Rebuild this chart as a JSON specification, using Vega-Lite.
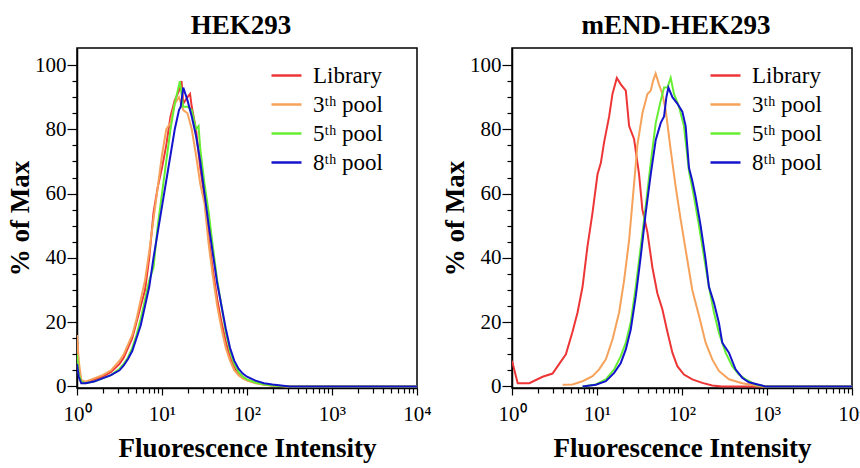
{
  "$schema": "https://vega.github.io/schema/vega-lite/v6.json",
  "padding": {"left": 5, "top": 11, "right": 2, "bottom": 2},
  "background": "white",
  "datasets": {
    "hek": [
      {"series":"Library","intensity":1,"percent":15},{"series":"Library","intensity":1.047,"percent":6},{"series":"Library","intensity":1.122,"percent":1.5},{"series":"Library","intensity":1.259,"percent":1},{"series":"Library","intensity":1.413,"percent":1.5},{"series":"Library","intensity":1.585,"percent":2},{"series":"Library","intensity":1.995,"percent":3},{"series":"Library","intensity":2.512,"percent":4.5},{"series":"Library","intensity":3.162,"percent":7},{"series":"Library","intensity":3.548,"percent":9},{"series":"Library","intensity":3.981,"percent":12},{"series":"Library","intensity":4.467,"percent":15},{"series":"Library","intensity":5.012,"percent":20},{"series":"Library","intensity":5.623,"percent":25},{"series":"Library","intensity":6.31,"percent":30},{"series":"Library","intensity":7.079,"percent":40},{"series":"Library","intensity":7.943,"percent":54},{"series":"Library","intensity":8.913,"percent":62},{"series":"Library","intensity":10,"percent":68},{"series":"Library","intensity":11.22,"percent":75},{"series":"Library","intensity":12.59,"percent":84},{"series":"Library","intensity":14.13,"percent":89},{"series":"Library","intensity":15.85,"percent":92},{"series":"Library","intensity":16.98,"percent":95},{"series":"Library","intensity":17.78,"percent":88},{"series":"Library","intensity":19.95,"percent":90},{"series":"Library","intensity":21.38,"percent":91},{"series":"Library","intensity":22.39,"percent":87},{"series":"Library","intensity":25.12,"percent":80},{"series":"Library","intensity":28.18,"percent":68},{"series":"Library","intensity":31.62,"percent":59},{"series":"Library","intensity":35.48,"percent":46},{"series":"Library","intensity":39.81,"percent":36},{"series":"Library","intensity":44.67,"percent":27},{"series":"Library","intensity":50.12,"percent":20},{"series":"Library","intensity":56.23,"percent":14},{"series":"Library","intensity":63.1,"percent":9},{"series":"Library","intensity":70.79,"percent":6},{"series":"Library","intensity":79.43,"percent":4},{"series":"Library","intensity":89.13,"percent":3},{"series":"Library","intensity":100,"percent":2},{"series":"Library","intensity":125.9,"percent":1.2},{"series":"Library","intensity":158.5,"percent":0.6},{"series":"Library","intensity":199.5,"percent":0.3},{"series":"Library","intensity":316.2,"percent":0},{"series":"Library","intensity":10000,"percent":0},
      {"series":"3ᵗʰ pool","intensity":1,"percent":16},{"series":"3ᵗʰ pool","intensity":1.047,"percent":8},{"series":"3ᵗʰ pool","intensity":1.122,"percent":2},{"series":"3ᵗʰ pool","intensity":1.259,"percent":1.5},{"series":"3ᵗʰ pool","intensity":1.585,"percent":2.5},{"series":"3ᵗʰ pool","intensity":1.995,"percent":3.5},{"series":"3ᵗʰ pool","intensity":2.512,"percent":5},{"series":"3ᵗʰ pool","intensity":3.162,"percent":8},{"series":"3ᵗʰ pool","intensity":3.548,"percent":10},{"series":"3ᵗʰ pool","intensity":3.981,"percent":13},{"series":"3ᵗʰ pool","intensity":4.467,"percent":16},{"series":"3ᵗʰ pool","intensity":5.012,"percent":21},{"series":"3ᵗʰ pool","intensity":5.623,"percent":27},{"series":"3ᵗʰ pool","intensity":6.31,"percent":33},{"series":"3ᵗʰ pool","intensity":7.079,"percent":42},{"series":"3ᵗʰ pool","intensity":7.943,"percent":52},{"series":"3ᵗʰ pool","intensity":8.913,"percent":62},{"series":"3ᵗʰ pool","intensity":10,"percent":72},{"series":"3ᵗʰ pool","intensity":11.22,"percent":80},{"series":"3ᵗʰ pool","intensity":12.59,"percent":82},{"series":"3ᵗʰ pool","intensity":14.13,"percent":88},{"series":"3ᵗʰ pool","intensity":15.85,"percent":90},{"series":"3ᵗʰ pool","intensity":17.78,"percent":86},{"series":"3ᵗʰ pool","intensity":19.95,"percent":85},{"series":"3ᵗʰ pool","intensity":22.39,"percent":80},{"series":"3ᵗʰ pool","intensity":25.12,"percent":72},{"series":"3ᵗʰ pool","intensity":28.18,"percent":63},{"series":"3ᵗʰ pool","intensity":31.62,"percent":57},{"series":"3ᵗʰ pool","intensity":35.48,"percent":44},{"series":"3ᵗʰ pool","intensity":39.81,"percent":34},{"series":"3ᵗʰ pool","intensity":44.67,"percent":25},{"series":"3ᵗʰ pool","intensity":50.12,"percent":18},{"series":"3ᵗʰ pool","intensity":56.23,"percent":12},{"series":"3ᵗʰ pool","intensity":63.1,"percent":8},{"series":"3ᵗʰ pool","intensity":70.79,"percent":5},{"series":"3ᵗʰ pool","intensity":79.43,"percent":3.5},{"series":"3ᵗʰ pool","intensity":89.13,"percent":2.5},{"series":"3ᵗʰ pool","intensity":100,"percent":1.8},{"series":"3ᵗʰ pool","intensity":125.9,"percent":1},{"series":"3ᵗʰ pool","intensity":158.5,"percent":0.5},{"series":"3ᵗʰ pool","intensity":199.5,"percent":0.2},{"series":"3ᵗʰ pool","intensity":316.2,"percent":0},{"series":"3ᵗʰ pool","intensity":10000,"percent":0},
      {"series":"5ᵗʰ pool","intensity":1,"percent":10},{"series":"5ᵗʰ pool","intensity":1.047,"percent":4},{"series":"5ᵗʰ pool","intensity":1.122,"percent":1.5},{"series":"5ᵗʰ pool","intensity":1.259,"percent":1},{"series":"5ᵗʰ pool","intensity":1.585,"percent":1.5},{"series":"5ᵗʰ pool","intensity":1.995,"percent":2.5},{"series":"5ᵗʰ pool","intensity":2.512,"percent":3.5},{"series":"5ᵗʰ pool","intensity":3.162,"percent":5.5},{"series":"5ᵗʰ pool","intensity":3.548,"percent":7},{"series":"5ᵗʰ pool","intensity":3.981,"percent":9},{"series":"5ᵗʰ pool","intensity":4.467,"percent":12},{"series":"5ᵗʰ pool","intensity":5.012,"percent":16},{"series":"5ᵗʰ pool","intensity":5.623,"percent":21},{"series":"5ᵗʰ pool","intensity":6.31,"percent":27},{"series":"5ᵗʰ pool","intensity":7.079,"percent":33},{"series":"5ᵗʰ pool","intensity":7.943,"percent":37},{"series":"5ᵗʰ pool","intensity":8.913,"percent":50},{"series":"5ᵗʰ pool","intensity":10,"percent":60},{"series":"5ᵗʰ pool","intensity":11.22,"percent":70},{"series":"5ᵗʰ pool","intensity":12.59,"percent":80},{"series":"5ᵗʰ pool","intensity":14.13,"percent":88},{"series":"5ᵗʰ pool","intensity":16.22,"percent":95},{"series":"5ᵗʰ pool","intensity":17.78,"percent":87},{"series":"5ᵗʰ pool","intensity":19.95,"percent":87},{"series":"5ᵗʰ pool","intensity":22.39,"percent":86},{"series":"5ᵗʰ pool","intensity":25.12,"percent":80},{"series":"5ᵗʰ pool","intensity":26.92,"percent":81},{"series":"5ᵗʰ pool","intensity":28.18,"percent":74},{"series":"5ᵗʰ pool","intensity":31.62,"percent":63},{"series":"5ᵗʰ pool","intensity":35.48,"percent":54},{"series":"5ᵗʰ pool","intensity":39.81,"percent":43},{"series":"5ᵗʰ pool","intensity":44.67,"percent":33},{"series":"5ᵗʰ pool","intensity":50.12,"percent":25},{"series":"5ᵗʰ pool","intensity":56.23,"percent":17},{"series":"5ᵗʰ pool","intensity":63.1,"percent":11},{"series":"5ᵗʰ pool","intensity":70.79,"percent":7},{"series":"5ᵗʰ pool","intensity":79.43,"percent":4.5},{"series":"5ᵗʰ pool","intensity":89.13,"percent":3},{"series":"5ᵗʰ pool","intensity":100,"percent":2.2},{"series":"5ᵗʰ pool","intensity":125.9,"percent":1.2},{"series":"5ᵗʰ pool","intensity":158.5,"percent":0.6},{"series":"5ᵗʰ pool","intensity":199.5,"percent":0.3},{"series":"5ᵗʰ pool","intensity":316.2,"percent":0},{"series":"5ᵗʰ pool","intensity":10000,"percent":0},
      {"series":"8ᵗʰ pool","intensity":1,"percent":7},{"series":"8ᵗʰ pool","intensity":1.047,"percent":3},{"series":"8ᵗʰ pool","intensity":1.122,"percent":1},{"series":"8ᵗʰ pool","intensity":1.259,"percent":1},{"series":"8ᵗʰ pool","intensity":1.585,"percent":1.5},{"series":"8ᵗʰ pool","intensity":1.995,"percent":2.5},{"series":"8ᵗʰ pool","intensity":2.512,"percent":3.5},{"series":"8ᵗʰ pool","intensity":3.162,"percent":5},{"series":"8ᵗʰ pool","intensity":3.548,"percent":6.5},{"series":"8ᵗʰ pool","intensity":3.981,"percent":8.5},{"series":"8ᵗʰ pool","intensity":4.467,"percent":11},{"series":"8ᵗʰ pool","intensity":5.012,"percent":15},{"series":"8ᵗʰ pool","intensity":5.623,"percent":19},{"series":"8ᵗʰ pool","intensity":6.31,"percent":25},{"series":"8ᵗʰ pool","intensity":7.079,"percent":31},{"series":"8ᵗʰ pool","intensity":7.943,"percent":40},{"series":"8ᵗʰ pool","intensity":8.913,"percent":48},{"series":"8ᵗʰ pool","intensity":10,"percent":56},{"series":"8ᵗʰ pool","intensity":11.22,"percent":64},{"series":"8ᵗʰ pool","intensity":12.59,"percent":72},{"series":"8ᵗʰ pool","intensity":14.13,"percent":80},{"series":"8ᵗʰ pool","intensity":15.85,"percent":86},{"series":"8ᵗʰ pool","intensity":16.6,"percent":87},{"series":"8ᵗʰ pool","intensity":17.78,"percent":93},{"series":"8ᵗʰ pool","intensity":19.95,"percent":89},{"series":"8ᵗʰ pool","intensity":22.39,"percent":84},{"series":"8ᵗʰ pool","intensity":25.12,"percent":78},{"series":"8ᵗʰ pool","intensity":28.18,"percent":70},{"series":"8ᵗʰ pool","intensity":31.62,"percent":60},{"series":"8ᵗʰ pool","intensity":35.48,"percent":50},{"series":"8ᵗʰ pool","intensity":39.81,"percent":41},{"series":"8ᵗʰ pool","intensity":44.67,"percent":32},{"series":"8ᵗʰ pool","intensity":50.12,"percent":25},{"series":"8ᵗʰ pool","intensity":56.23,"percent":18},{"series":"8ᵗʰ pool","intensity":63.1,"percent":12},{"series":"8ᵗʰ pool","intensity":70.79,"percent":8},{"series":"8ᵗʰ pool","intensity":79.43,"percent":5.5},{"series":"8ᵗʰ pool","intensity":89.13,"percent":4},{"series":"8ᵗʰ pool","intensity":100,"percent":3},{"series":"8ᵗʰ pool","intensity":125.9,"percent":1.8},{"series":"8ᵗʰ pool","intensity":158.5,"percent":1},{"series":"8ᵗʰ pool","intensity":199.5,"percent":0.6},{"series":"8ᵗʰ pool","intensity":251.2,"percent":0.3},{"series":"8ᵗʰ pool","intensity":316.2,"percent":0},{"series":"8ᵗʰ pool","intensity":10000,"percent":0}
    ],
    "mend": [
      {"series":"Library","intensity":1,"percent":8},{"series":"Library","intensity":1.167,"percent":1},{"series":"Library","intensity":1.6,"percent":1},{"series":"Library","intensity":2.291,"percent":3},{"series":"Library","intensity":2.999,"percent":4},{"series":"Library","intensity":3.597,"percent":7},{"series":"Library","intensity":4.305,"percent":10},{"series":"Library","intensity":5.152,"percent":17},{"series":"Library","intensity":5.902,"percent":23},{"series":"Library","intensity":6.761,"percent":31},{"series":"Library","intensity":7.727,"percent":43.6},{"series":"Library","intensity":8.851,"percent":54},{"series":"Library","intensity":10.14,"percent":66},{"series":"Library","intensity":11.09,"percent":69.5},{"series":"Library","intensity":12.13,"percent":76},{"series":"Library","intensity":13.9,"percent":84},{"series":"Library","intensity":15.21,"percent":91},{"series":"Library","intensity":17.1,"percent":96},{"series":"Library","intensity":19.05,"percent":94},{"series":"Library","intensity":21.83,"percent":92},{"series":"Library","intensity":23.88,"percent":81},{"series":"Library","intensity":27.29,"percent":77},{"series":"Library","intensity":31.26,"percent":66},{"series":"Library","intensity":34.2,"percent":55},{"series":"Library","intensity":39.17,"percent":48},{"series":"Library","intensity":44.87,"percent":37},{"series":"Library","intensity":51.29,"percent":29},{"series":"Library","intensity":58.75,"percent":24},{"series":"Library","intensity":67.3,"percent":17},{"series":"Library","intensity":77.09,"percent":10.5},{"series":"Library","intensity":88.1,"percent":6.3},{"series":"Library","intensity":105.4,"percent":3.7},{"series":"Library","intensity":132.1,"percent":2.2},{"series":"Library","intensity":173.4,"percent":1.1},{"series":"Library","intensity":227,"percent":0.3},{"series":"Library","intensity":295.1,"percent":0},{"series":"Library","intensity":10000,"percent":0},
      {"series":"3ᵗʰ pool","intensity":3.936,"percent":0.5},{"series":"3ᵗʰ pool","intensity":5.152,"percent":0.6},{"series":"3ᵗʰ pool","intensity":6.761,"percent":1.6},{"series":"3ᵗʰ pool","intensity":8.851,"percent":3.2},{"series":"3ᵗʰ pool","intensity":10.59,"percent":5.3},{"series":"3ᵗʰ pool","intensity":12.71,"percent":8.4},{"series":"3ᵗʰ pool","intensity":15.21,"percent":14.6},{"series":"3ᵗʰ pool","intensity":18.2,"percent":23},{"series":"3ᵗʰ pool","intensity":20.84,"percent":33},{"series":"3ᵗʰ pool","intensity":23.88,"percent":45.6},{"series":"3ᵗʰ pool","intensity":27.29,"percent":63},{"series":"3ᵗʰ pool","intensity":29.85,"percent":75},{"series":"3ᵗʰ pool","intensity":34.2,"percent":85},{"series":"3ᵗʰ pool","intensity":39.17,"percent":91},{"series":"3ᵗʰ pool","intensity":42.85,"percent":92},{"series":"3ᵗʰ pool","intensity":45.6,"percent":95},{"series":"3ᵗʰ pool","intensity":48.98,"percent":97.4},{"series":"3ᵗʰ pool","intensity":53.58,"percent":94},{"series":"3ᵗʰ pool","intensity":58.75,"percent":91},{"series":"3ᵗʰ pool","intensity":64.27,"percent":86},{"series":"3ᵗʰ pool","intensity":73.62,"percent":73.6},{"series":"3ᵗʰ pool","intensity":84.33,"percent":62},{"series":"3ᵗʰ pool","intensity":96.38,"percent":52},{"series":"3ᵗʰ pool","intensity":110.4,"percent":42.5},{"series":"3ᵗʰ pool","intensity":132.1,"percent":30},{"series":"3ᵗʰ pool","intensity":158.5,"percent":22},{"series":"3ᵗʰ pool","intensity":189.7,"percent":13.6},{"series":"3ᵗʰ pool","intensity":227,"percent":8.4},{"series":"3ᵗʰ pool","intensity":271.6,"percent":4.8},{"series":"3ᵗʰ pool","intensity":356.5,"percent":2.2},{"series":"3ᵗʰ pool","intensity":510.5,"percent":1},{"series":"3ᵗʰ pool","intensity":732.8,"percent":0.3},{"series":"3ᵗʰ pool","intensity":877,"percent":0},{"series":"3ᵗʰ pool","intensity":10000,"percent":0},
      {"series":"5ᵗʰ pool","intensity":6.761,"percent":0},{"series":"5ᵗʰ pool","intensity":9.683,"percent":0.6},{"series":"5ᵗʰ pool","intensity":12.71,"percent":2.2},{"series":"5ᵗʰ pool","intensity":15.92,"percent":5.3},{"series":"5ᵗʰ pool","intensity":19.05,"percent":9.4},{"series":"5ᵗʰ pool","intensity":21.83,"percent":13.6},{"series":"5ᵗʰ pool","intensity":24.95,"percent":20},{"series":"5ᵗʰ pool","intensity":28.58,"percent":31},{"series":"5ᵗʰ pool","intensity":32.73,"percent":43.6},{"series":"5ᵗʰ pool","intensity":37.41,"percent":56},{"series":"5ᵗʰ pool","intensity":42.85,"percent":69.5},{"series":"5ᵗʰ pool","intensity":49.09,"percent":82},{"series":"5ᵗʰ pool","intensity":56.23,"percent":89},{"series":"5ᵗʰ pool","intensity":61.52,"percent":93},{"series":"5ᵗʰ pool","intensity":67.3,"percent":93},{"series":"5ᵗʰ pool","intensity":73.62,"percent":96},{"series":"5ᵗʰ pool","intensity":80.54,"percent":91},{"series":"5ᵗʰ pool","intensity":92.26,"percent":87},{"series":"5ᵗʰ pool","intensity":105.4,"percent":81},{"series":"5ᵗʰ pool","intensity":120.8,"percent":67},{"series":"5ᵗʰ pool","intensity":138.4,"percent":59},{"series":"5ᵗʰ pool","intensity":158.5,"percent":50},{"series":"5ᵗʰ pool","intensity":181.1,"percent":40.5},{"series":"5ᵗʰ pool","intensity":207.5,"percent":31},{"series":"5ᵗʰ pool","intensity":237.7,"percent":23},{"series":"5ᵗʰ pool","intensity":271.6,"percent":16.7},{"series":"5ᵗʰ pool","intensity":325.8,"percent":10.5},{"series":"5ᵗʰ pool","intensity":389.9,"percent":6.3},{"series":"5ᵗʰ pool","intensity":466.7,"percent":3.7},{"series":"5ᵗʰ pool","intensity":559.8,"percent":2.2},{"series":"5ᵗʰ pool","intensity":732.8,"percent":0.6},{"series":"5ᵗʰ pool","intensity":959.4,"percent":0},{"series":"5ᵗʰ pool","intensity":10000,"percent":0},
      {"series":"8ᵗʰ pool","intensity":6.761,"percent":0},{"series":"8ᵗʰ pool","intensity":9.683,"percent":0.5},{"series":"8ᵗʰ pool","intensity":12.71,"percent":1.6},{"series":"8ᵗʰ pool","intensity":15.92,"percent":4.2},{"series":"8ᵗʰ pool","intensity":19.05,"percent":7.3},{"series":"8ᵗʰ pool","intensity":21.83,"percent":11.5},{"series":"8ᵗʰ pool","intensity":24.95,"percent":17.7},{"series":"8ᵗʰ pool","intensity":28.58,"percent":28},{"series":"8ᵗʰ pool","intensity":32.73,"percent":40.5},{"series":"8ᵗʰ pool","intensity":37.41,"percent":54},{"series":"8ᵗʰ pool","intensity":42.85,"percent":66},{"series":"8ᵗʰ pool","intensity":49.09,"percent":76.7},{"series":"8ᵗʰ pool","intensity":56.23,"percent":82},{"series":"8ᵗʰ pool","intensity":61.52,"percent":84},{"series":"8ᵗʰ pool","intensity":65.5,"percent":90},{"series":"8ᵗʰ pool","intensity":69.18,"percent":93},{"series":"8ᵗʰ pool","intensity":77.09,"percent":90},{"series":"8ᵗʰ pool","intensity":88.1,"percent":88},{"series":"8ᵗʰ pool","intensity":100.9,"percent":85.5},{"series":"8ᵗʰ pool","intensity":110.4,"percent":81},{"series":"8ᵗʰ pool","intensity":120.8,"percent":68},{"series":"8ᵗʰ pool","intensity":132.1,"percent":64},{"series":"8ᵗʰ pool","intensity":144.5,"percent":59},{"series":"8ᵗʰ pool","intensity":165.6,"percent":50},{"series":"8ᵗʰ pool","intensity":189.7,"percent":39.4},{"series":"8ᵗʰ pool","intensity":207.5,"percent":31},{"series":"8ᵗʰ pool","intensity":237.7,"percent":26},{"series":"8ᵗʰ pool","intensity":271.6,"percent":19.8},{"series":"8ᵗʰ pool","intensity":297.8,"percent":13.6},{"series":"8ᵗʰ pool","intensity":356.5,"percent":10.5},{"series":"8ᵗʰ pool","intensity":426.6,"percent":5.3},{"series":"8ᵗʰ pool","intensity":510.5,"percent":2.7},{"series":"8ᵗʰ pool","intensity":612.4,"percent":1.3},{"series":"8ᵗʰ pool","intensity":801.8,"percent":0.5},{"series":"8ᵗʰ pool","intensity":959.4,"percent":0},{"series":"8ᵗʰ pool","intensity":10000,"percent":0}
    ]
  },
  "config": {
    "font": "Liberation Serif",
    "view": {"stroke": "black", "strokeWidth": 1.5},
    "axis": {
      "grid": false, "domainColor": "black", "domainWidth": 1.5, "tickColor": "black", "tickWidth": 1.2,
      "labelColor": "black", "titleColor": "black", "labelFont": "Liberation Serif", "titleFont": "Liberation Serif",
      "labelFontSize": 21, "titleFontWeight": "bold", "titleFontSize": 27
    },
    "title": {"font": "Liberation Serif", "fontSize": 27, "fontWeight": "bold", "color": "black", "offset": 8, "dx": -6},
    "legend": {
      "labelFont": "Liberation Serif", "labelFontSize": 23, "labelColor": "black",
      "symbolType": "stroke", "symbolStrokeWidth": 2.5, "symbolSize": 900,
      "rowPadding": -4.5, "labelOffset": 10, "padding": 0
    }
  },
  "spacing": 95,
  "bounds": "flush",
  "resolve": {"legend": {"color": "independent"}},
  "hconcat": [
    {
      "width": 340, "height": 340,
      "title": "HEK293",
      "data": {"name": "hek"},
      "mark": {"type": "line", "strokeWidth": 2, "clip": true},
      "encoding": {
        "x": {"field": "intensity", "type": "quantitative",
          "scale": {"type": "log", "domain": [1, 10000], "nice": false},
          "axis": {"title": "Fluorescence Intensity", "titlePadding": 11, "labelPadding": 8,
            "values": [1,2,3,4,5,6,7,8,9,10,20,30,40,50,60,70,80,90,100,200,300,400,500,600,700,800,900,1000,2000,3000,4000,5000,6000,7000,8000,9000,10000],
            "labelExpr": "datum.value == 1 ? '10⁰' : datum.value == 10 ? '10¹' : datum.value == 100 ? '10²' : datum.value == 1000 ? '10³' : datum.value == 10000 ? '10⁴' : ''",
            "labelFlush": false, "labelOverlap": false, "labelBound": false,
            "tickSize": {"condition": {"test": "indexof([1,10,100,1000,10000], datum.value) >= 0", "value": 7}, "value": 5}}},
        "y": {"field": "percent", "type": "quantitative",
          "scale": {"domain": [-0.5, 105.3], "nice": false, "zero": false},
          "axis": {"title": "% of Max", "titlePadding": 0, "labelPadding": 1,
            "tickSize": {"condition": {"test": "datum.value % 20 == 0", "value": 10}, "value": 5},
            "values": [0,5,10,15,20,25,30,35,40,45,50,55,60,65,70,75,80,85,90,95,100],
            "labelExpr": "datum.value % 20 == 0 ? datum.label : ''", "labelOverlap": false}},
        "color": {"field": "series", "type": "nominal",
          "scale": {"domain": ["Library", "3ᵗʰ pool", "5ᵗʰ pool", "8ᵗʰ pool"], "range": ["#ee3536", "#f6a25a", "#66ee33", "#1414cc"]},
          "legend": {"title": null, "orient": "none", "legendX": 193, "legendY": 11}}
      }
    },
    {
      "width": 340, "height": 340,
      "title": "mEND-HEK293",
      "data": {"name": "mend"},
      "mark": {"type": "line", "strokeWidth": 2, "clip": true},
      "encoding": {
        "x": {"field": "intensity", "type": "quantitative",
          "scale": {"type": "log", "domain": [1, 10000], "nice": false},
          "axis": {"title": "Fluorescence Intensity", "titlePadding": 11, "labelPadding": 8,
            "values": [1,2,3,4,5,6,7,8,9,10,20,30,40,50,60,70,80,90,100,200,300,400,500,600,700,800,900,1000,2000,3000,4000,5000,6000,7000,8000,9000,10000],
            "labelExpr": "datum.value == 1 ? '10⁰' : datum.value == 10 ? '10¹' : datum.value == 100 ? '10²' : datum.value == 1000 ? '10³' : datum.value == 10000 ? '10⁴' : ''",
            "labelFlush": false, "labelOverlap": false, "labelBound": false,
            "tickSize": {"condition": {"test": "indexof([1,10,100,1000,10000], datum.value) >= 0", "value": 7}, "value": 5}}},
        "y": {"field": "percent", "type": "quantitative",
          "scale": {"domain": [-0.5, 105.3], "nice": false, "zero": false},
          "axis": {"title": "% of Max", "titlePadding": 0, "labelPadding": 1,
            "tickSize": {"condition": {"test": "datum.value % 20 == 0", "value": 10}, "value": 5},
            "values": [0,5,10,15,20,25,30,35,40,45,50,55,60,65,70,75,80,85,90,95,100],
            "labelExpr": "datum.value % 20 == 0 ? datum.label : ''", "labelOverlap": false}},
        "color": {"field": "series", "type": "nominal",
          "scale": {"domain": ["Library", "3ᵗʰ pool", "5ᵗʰ pool", "8ᵗʰ pool"], "range": ["#ee3536", "#f6a25a", "#66ee33", "#1414cc"]},
          "legend": {"title": null, "orient": "none", "legendX": 197, "legendY": 11}}
      }
    }
  ]
}
